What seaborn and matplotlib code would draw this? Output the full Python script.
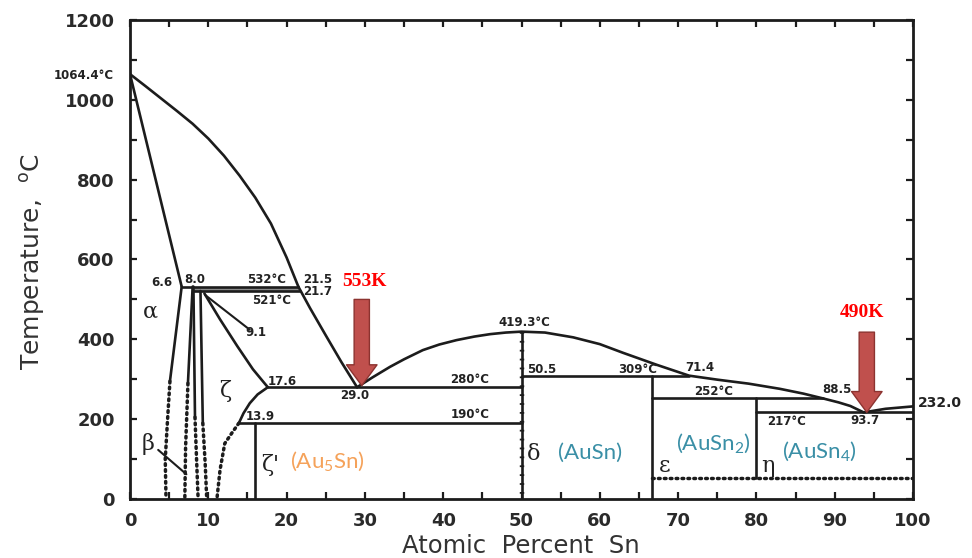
import matplotlib
matplotlib.use("Agg")
import matplotlib.pyplot as plt
import seaborn as sns
from matplotlib.ticker import MultipleLocator

# ---------------- data ----------------
liq_left_x = [0, 2, 4, 6, 8, 10, 12, 14, 16, 18, 20, 21.5]
liq_left_t = [1064.4, 1034, 1003, 972, 940, 903, 860, 810, 755, 690, 605, 532]
liq_mid_x = [21.5, 23, 25, 27, 29]
liq_mid_t = [532, 478, 410, 343, 280]
liq_right_x = [29, 31, 33.2, 35, 37.4, 39.5, 41.7, 44, 46, 48, 50, 53, 56.6, 60, 63,
               67.3, 71.4, 75, 79, 83, 86, 88.5, 90.5, 92, 93.7, 96.5, 100]
liq_right_t = [280, 305, 331, 350, 373, 387, 398, 407, 413, 417, 419.3, 417, 405, 388,
               366, 336, 309, 299, 289, 276, 264, 252, 242, 233, 217, 226, 232]
sol_alpha_x = [0, 6.6]
sol_alpha_t = [1064.4, 532]

b1_solid_x = [6.6, 5.1]
b1_solid_t = [532, 295]
b1_dot_x = [5.1, 4.8, 4.5, 4.6]
b1_dot_t = [295, 200, 100, 0]
b2_solid_x = [8.0, 7.4]
b2_solid_t = [532, 290]
b2_dot_x = [7.4, 7.1, 7.0]
b2_dot_t = [290, 130, 0]
b3_solid_x = [8.1, 8.3]
b3_solid_t = [532, 205]
b3_dot_x = [8.3, 8.5, 8.7]
b3_dot_t = [205, 100, 0]
b4_solid_x = [9.0, 9.3]
b4_solid_t = [521, 190]
b4_dot_x = [9.3, 9.6, 9.8]
b4_dot_t = [190, 90, 0]
p91_x = [9.6, 15.3]
p91_t = [511, 424]
zeta_up_x = [9.5, 11.5, 13.7, 15.7, 17.6]
zeta_up_t = [515, 450, 383, 325, 280]
zeta_lo_x = [17.6, 16.3, 15.3, 14.5, 13.9]
zeta_lo_t = [280, 262, 240, 215, 190]
zeta_dot_x = [13.9, 13.0, 12.1, 11.5, 11.1]
zeta_dot_t = [190, 165, 139, 73, 0]
beta_ptr_x = [3.6, 7.2]
beta_ptr_t = [123, 62]

# invariant lines
h532_x = [6.6, 21.5]; h532_t = [532, 532]
h521_x = [8.0, 21.7]; h521_t = [521, 521]
h280_x = [17.6, 50]; h280_t = [280, 280]
h190_x = [13.9, 50]; h190_t = [190, 190]
h309_x = [50, 71.4]; h309_t = [309, 309]
h252_x = [66.7, 88.5]; h252_t = [252, 252]
h217_x = [80, 100]; h217_t = [217, 217]
h_dot_x = [66.7, 100]; h_dot_t = [52, 52]
v16_x = [16, 16]; v16_t = [190, 0]
v50_x = [50, 50]; v50_t = [419.3, 0]
v667_x = [66.7, 66.7]; v667_t = [309, 0]
v80_x = [80, 80]; v80_t = [252, 52]

x_ticks = [0, 10, 20, 30, 40, 50, 60, 70, 80, 90, 100]
y_ticks = [0, 200, 400, 600, 800, 1000, 1200]

# ---------------- figure ----------------
sns.set_theme(style="ticks")
plt.rcParams["font.family"] = ["DejaVu Sans"]

fig = plt.figure(figsize=(9.72, 5.58), dpi=100)
ax = fig.add_axes([130 / 972, 1 - 499 / 558, 783 / 972, 479 / 558])
ax.set_xlim(0, 100)
ax.set_ylim(0, 1200)

K = "#1c1c1c"


def line(xs, ys, lw=1.9, ls="-", color=K, **kw):
    sns.lineplot(x=xs, y=ys, sort=False, estimator=None, ax=ax, color=color,
                 lw=lw, linestyle=ls, legend=False, **kw)


DOT = (0, (0.5, 1.2))

# band between 532 and 521
ax.fill_between([8.0, 21.6], [521, 521], [532, 532], color="#8a8a8a", lw=0)

for xs, ys in [(liq_left_x, liq_left_t), (liq_mid_x, liq_mid_t),
               (liq_right_x, liq_right_t), (sol_alpha_x, sol_alpha_t),
               (b1_solid_x, b1_solid_t), (b2_solid_x, b2_solid_t),
               (b3_solid_x, b3_solid_t), (b4_solid_x, b4_solid_t),
               (zeta_up_x, zeta_up_t), (zeta_lo_x, zeta_lo_t),
               (h532_x, h532_t), (h521_x, h521_t), (h280_x, h280_t),
               (h190_x, h190_t), (h309_x, h309_t), (h252_x, h252_t),
               (h217_x, h217_t), (v16_x, v16_t), (v50_x, v50_t),
               (v667_x, v667_t), (v80_x, v80_t)]:
    line(xs, ys)

line(p91_x, p91_t, lw=1.5)
line(beta_ptr_x, beta_ptr_t, lw=1.5)

for xs, ys in [(b1_dot_x, b1_dot_t), (b2_dot_x, b2_dot_t), (b3_dot_x, b3_dot_t),
               (b4_dot_x, b4_dot_t), (zeta_dot_x, zeta_dot_t), (h_dot_x, h_dot_t)]:
    line(xs, ys, lw=2.5, ls=DOT, dash_capstyle="round")
line(v50_x, v50_t, lw=3.2, ls=(0, (0.4, 1.6)))

# ---------------- axes styling ----------------
for s in ax.spines.values():
    s.set_linewidth(2.0)
    s.set_color(K)
ax.set_xticks(x_ticks)
ax.set_yticks(y_ticks)
ax.xaxis.set_minor_locator(MultipleLocator(5))
ax.yaxis.set_minor_locator(MultipleLocator(100))
ax.tick_params(which="both", direction="in", top=True, right=True, length=5,
               width=1.6, color=K)
ax.tick_params(axis="x", which="major", pad=9, labelsize=13, labelcolor="#2a2a2a")
ax.tick_params(axis="y", which="major", pad=11, labelsize=13, labelcolor="#2a2a2a")
for lab in ax.get_xticklabels() + ax.get_yticklabels():
    lab.set_fontweight("bold")
ax.set_xlabel("")
ax.set_ylabel("")

fig.text(33 / 972, 1 - 262 / 558, r"Temperature,  $^{\mathsf{o}}$C", rotation=90,
         fontsize=18, color="#333", ha="center", va="center")
fig.text(521 / 972, 1 - 553 / 558, "Atomic  Percent  Sn", fontsize=17.5,
         color="#333", ha="center", va="baseline")

# ---------------- small labels ----------------
small = dict(fontsize=8.5, fontweight="bold", color="#222", ha="center", va="center")
labels = [
    (-5.9, 1060, "1064.4°C"), (4.0, 542, "6.6"), (8.3, 550, "8.0"),
    (17.4, 550, "532°C"), (24.0, 550, "21.5"), (18.1, 497, "521°C"),
    (24.0, 521, "21.7"), (16.1, 416, "9.1"), (19.4, 294, "17.6"),
    (28.7, 260, "29.0"), (16.6, 207, "13.9"), (43.4, 299, "280°C"),
    (43.4, 211, "190°C"), (50.4, 442, "419.3°C"), (52.6, 324, "50.5"),
    (64.8, 324, "309°C"), (72.8, 329, "71.4"), (74.5, 269, "252°C"),
    (90.3, 274, "88.5"), (83.9, 193, "217°C"), (93.9, 197, "93.7"),
]
for x, y, s in labels:
    ax.text(x, y, s, clip_on=False, **small)
ax.text(100.6, 240, "232.0", clip_on=False, fontsize=10, fontweight="bold",
        color="#222", ha="left", va="center")

# greek phase labels
gk = dict(fontsize=16, color="#222", family="DejaVu Serif", ha="center", va="center")
for x, y, s in [(2.6, 469, "α"), (2.3, 138, "β"), (12.1, 270, "ζ"),
                (17.9, 85, "ζ'"), (51.5, 112, "δ"), (68.3, 82, "ε"), (81.5, 82, "η")]:
    ax.text(x, y, s, **gk)

# coloured compound labels
teal = "#3a8fa6"
orange = "#f5a25a"
cf = dict(fontsize=16, family="Lato", ha="center", va="center")
ax.text(25.2, 92, r"(Au$_\mathregular{5}$Sn)", color=orange, **cf)
ax.text(58.7, 115, "(AuSn)", color=teal, **cf)
ax.text(74.5, 137, r"(AuSn$_\mathregular{2}$)", color=teal, **cf)
ax.text(88.1, 118, r"(AuSn$_\mathregular{4}$)", color=teal, **cf)

# ---------------- red arrows ----------------
arr = dict(arrowstyle="simple,head_length=1.5,head_width=2.2,tail_width=1.1",
           mutation_scale=10, fc="#c0504d", ec="#8c3330", lw=1, shrinkA=0, shrinkB=0)
ax.annotate("", xy=(29.6, 284), xytext=(29.6, 500), arrowprops=arr)
ax.annotate("", xy=(94.1, 217), xytext=(94.1, 418), arrowprops=arr)
red = dict(color="red", fontsize=14, fontweight="bold", family="Liberation Serif",
           ha="center", va="center")
ax.text(30.0, 545, "553K", **red)
ax.text(93.5, 467, "490K", **red)

fig.savefig("out.png", dpi=100)
